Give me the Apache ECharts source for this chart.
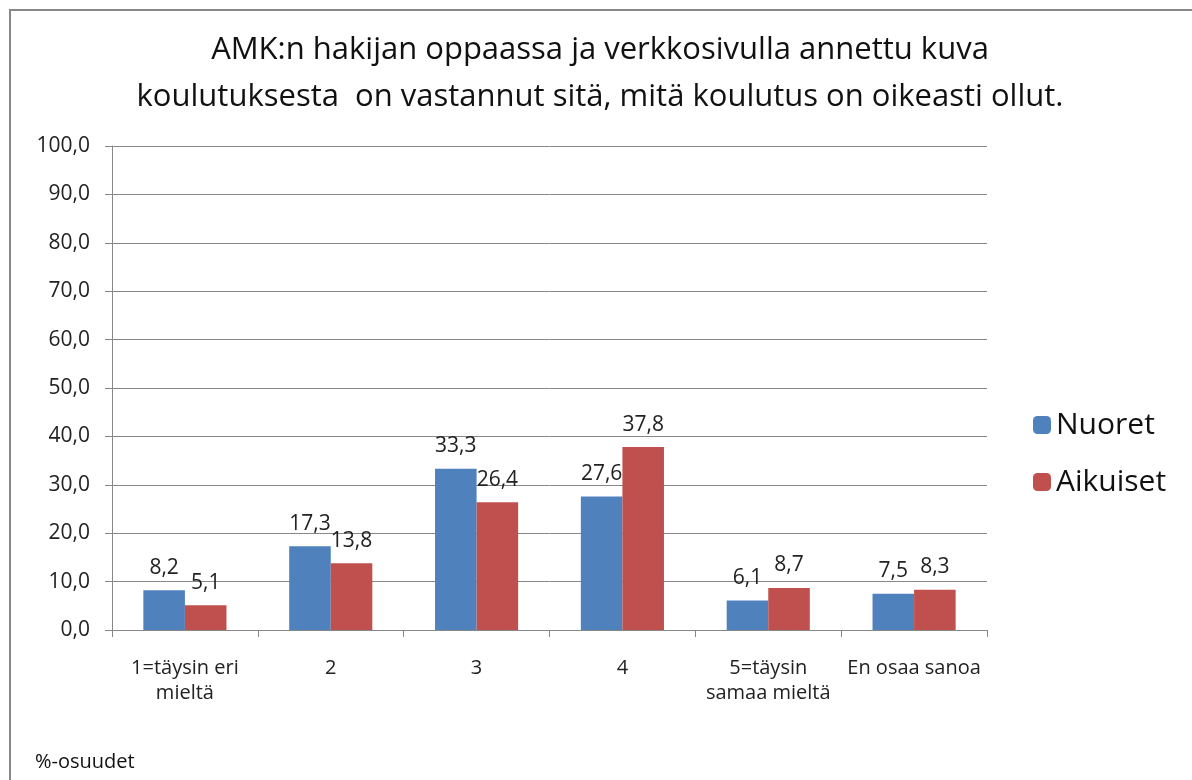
<!DOCTYPE html>
<html>
<head>
<meta charset="utf-8">
<script src="https://cdn.jsdelivr.net/npm/echarts@6/dist/echarts.min.js"></script>
<style>
  html, body { margin: 0; padding: 0; background: #fff; }
  #chart { width: 1192px; height: 780px; }
</style>
</head>
<body>
<div id="chart"></div>
<script>
const categories = ["1=täysin eri\nmieltä", "2", "3", "4", "5=täysin\nsamaa mieltä", "En osaa sanoa"]
const nuoret = [8.2, 17.3, 33.3, 27.6, 6.1, 7.5]
const aikuiset = [5.1, 13.8, 26.4, 37.8, 8.7, 8.3]
const yTicks = [0, 10, 20, 30, 40, 50, 60, 70, 80, 90, 100]

const font = "'Open Sans', sans-serif"
const fmt = v => v.toFixed(1).replace(".", ",")

const chart = echarts.init(document.getElementById("chart"))

const labelStyle = {
    show: true, position: "top", distance: 12,
    color: "#222", fontSize: 21, fontFamily: font,
    formatter: p => fmt(p.value)
}

chart.setOption({
    animation: false,
    graphic: [
        {
            type: "rect", z: -1,
            shape: {x: 10, y: 10, width: 1200, height: 800},
            style: {fill: "#fff", stroke: "#888", lineWidth: 2}
        },
        {
            type: "text", x: 600, y: 27,
            style: {
                text: "AMK:n hakijan oppaassa ja verkkosivulla annettu kuva\nkoulutuksesta  on vastannut sitä, mitä koulutus on oikeasti ollut.",
                fill: "#111", font: "31px " + font, align: "center", lineHeight: 47
            }
        },
        {
            type: "text", x: 35, y: 752,
            style: {text: "%-osuudet", fill: "#111", font: "20px " + font}
        }
    ],
    legend: {
        orient: "vertical", left: 1028, top: 405, itemGap: 27,
        itemWidth: 18, itemHeight: 18,
        textStyle: {fontSize: 30, fontFamily: font, color: "#111"},
        data: ["Nuoret", "Aikuiset"]
    },
    grid: {left: 112, top: 146, width: 875, height: 484},
    xAxis: {
        type: "category",
        data: categories,
        axisLine: {lineStyle: {color: "#888"}},
        axisTick: {show: true, length: 7, lineStyle: {color: "#888"}},
        axisLabel: {
            interval: 0, margin: 26, lineHeight: 25,
            fontSize: 20, fontFamily: font, color: "#222"
        }
    },
    yAxis: {
        type: "value", min: 0, max: 100, interval: 10,
        axisLine: {show: true, lineStyle: {color: "#888"}},
        axisTick: {show: true, length: 7, lineStyle: {color: "#888"}},
        splitLine: {lineStyle: {color: "#888"}},
        axisLabel: {
            margin: 22, fontSize: 21, fontFamily: font, color: "#222",
            formatter: v => yTicks.includes(v) ? fmt(v) : ""
        }
    },
    series: [
        {
            name: "Nuoret", type: "bar", data: nuoret,
            barGap: "0%", barCategoryGap: "43%",
            itemStyle: {color: "#4F81BD"},
            label: labelStyle
        },
        {
            name: "Aikuiset", type: "bar", data: aikuiset,
            itemStyle: {color: "#C0504D"},
            label: labelStyle
        }
    ]
})
</script>
</body>
</html>
